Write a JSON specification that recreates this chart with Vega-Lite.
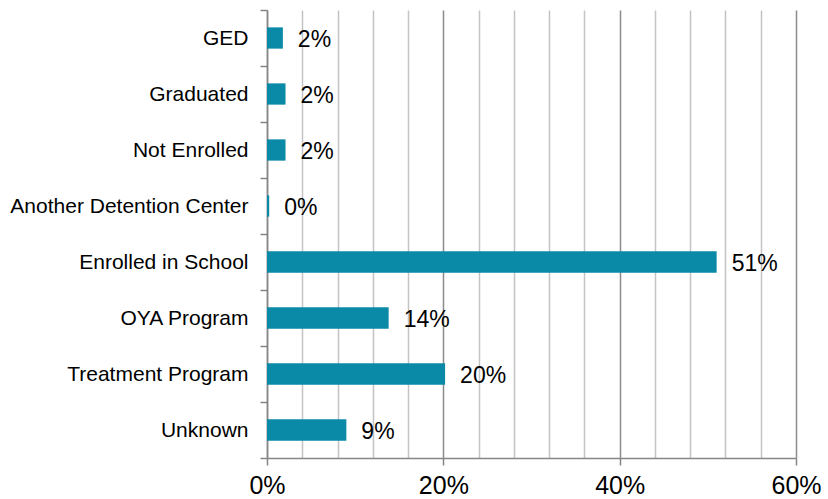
{
  "$schema": "https://vega.github.io/schema/vega-lite/v6.json",
  "autosize": {"type": "none"},
  "width": 529,
  "height": 448,
  "padding": {"left": 267, "top": 10, "right": 32, "bottom": 41},
  "background": "white",
  "data": {
    "values": [
      {"category": "GED", "value": 1.8, "label": "2%"},
      {"category": "Graduated", "value": 2.1, "label": "2%"},
      {"category": "Not Enrolled", "value": 2.1, "label": "2%"},
      {"category": "Another Detention Center", "value": 0.25, "label": "0%"},
      {"category": "Enrolled in School", "value": 51, "label": "51%"},
      {"category": "OYA Program", "value": 13.8, "label": "14%"},
      {"category": "Treatment Program", "value": 20.2, "label": "20%"},
      {"category": "Unknown", "value": 9, "label": "9%"}
    ]
  },
  "config": {
    "view": {"stroke": null},
    "font": "Liberation Sans"
  },
  "encoding": {
    "y": {
      "field": "category",
      "type": "nominal",
      "sort": null,
      "scale": {"paddingInner": 0, "paddingOuter": 0},
      "axis": {
        "title": null,
        "labelFont": "Liberation Sans",
        "labelFontSize": 21,
        "labelLimit": 400,
        "labelColor": "#000000",
        "labelPadding": 12,
        "tickBand": "extent",
        "tickSize": 7,
        "tickColor": "#868686",
        "tickWidth": 1.5,
        "domainColor": "#868686",
        "domainWidth": 1.5,
        "grid": false
      }
    },
    "x": {
      "field": "value",
      "type": "quantitative",
      "scale": {"domain": [0, 60], "nice": false, "zero": true},
      "axis": {
        "title": null,
        "values": [0, 4, 8, 12, 16, 20, 24, 28, 32, 36, 40, 44, 48, 52, 56, 60],
        "tickCount": 100,
        "labelExpr": "datum.value % 20 === 0 ? datum.value + '%' : ''",
        "labelFont": "Liberation Sans",
        "labelFontSize": 25,
        "labelColor": "#000000",
        "labelPadding": 8,
        "labelFlush": false,
        "labelOverlap": false,
        "tickSize": 7,
        "tickWidth": 1.5,
        "tickColor": "#868686",
        "tickOpacity": {"condition": {"test": "datum.value % 20 === 0", "value": 1}, "value": 0},
        "domainColor": "#868686",
        "domainWidth": 1.5,
        "grid": true,
        "gridWidth": 1.5,
        "gridColor": {"condition": {"test": "datum.value % 20 === 0", "value": "#8c8c8c"}, "value": "#c4c4c4"}
      }
    }
  },
  "layer": [
    {
      "mark": {"type": "bar", "color": "#0B8AA8", "height": {"band": 0.38}}
    },
    {
      "mark": {"type": "text", "align": "left", "baseline": "middle", "dx": 15, "dy": 2, "fontSize": 23, "color": "#000000", "font": "Liberation Sans"},
      "encoding": {
        "text": {"field": "label"}
      }
    }
  ]
}
